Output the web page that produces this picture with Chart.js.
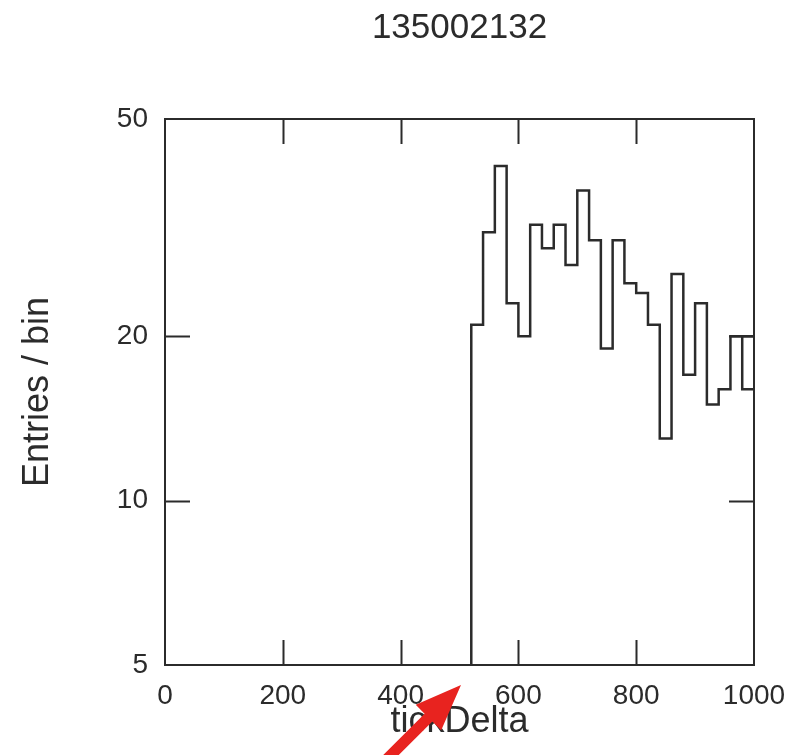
<!DOCTYPE html>
<html>
<head>
<meta charset="utf-8">
<script src="https://cdn.jsdelivr.net/npm/chart.js@4.4.1/dist/chart.umd.min.js"></script>
<style>
  html, body { margin: 0; padding: 0; background: #fff; }
  #wrap { width: 788px; height: 755px; }
</style>
</head>
<body>
<div id="wrap"><canvas id="hist"></canvas></div>
<script>
// tickDelta histogram, 20-wide bins, log y axis
const runTitle = '135002132';
const binLow = [520, 540, 560, 580, 600, 620, 640, 660, 680, 700, 720, 740,
                760, 780, 800, 820, 840, 860, 880, 900, 920, 940, 960, 980];
const binHigh = 1000;
const counts = [21, 31, 41, 23, 20, 32, 29, 32, 27, 37, 30, 19,
                30, 25, 24, 21, 13, 26, 17, 23, 15, 16, 20, 16];
// extra level drawn over the last bin
const overflowX = [980, 1000];
const overflowY = [20, 20];
const xTicks = [0, 200, 400, 600, 800, 1000];
const yTicks = [5, 10, 20, 50];

const ink = '#2b2b2b';
const fontFamily = '"Liberation Sans", Arial, Helvetica, sans-serif';

// step outline: rise from the axis floor, then one point per bin edge
// (Chart.js 'before' keeps each point's level until the next x)
const stepPoints = [{ x: binLow[0], y: yTicks[0] }]
  .concat(binLow.map((x, i) => ({ x: x, y: counts[i] })))
  .concat([{ x: binHigh, y: counts[counts.length - 1] }]);
const overflowPoints = overflowX.map((x, i) => ({ x: x, y: overflowY[i] }));

// frame with inward ticks, title and the red arrow
const framePlugin = {
  id: 'frame',
  afterDatasetsDraw(chart) {
    const { ctx, chartArea: a, scales } = chart;
    const len = 25;
    ctx.save();
    ctx.strokeStyle = ink;
    ctx.lineWidth = 2;
    ctx.strokeRect(a.left, a.top, a.right - a.left, a.bottom - a.top);
    ctx.beginPath();
    xTicks.slice(1, -1).forEach(v => {
      const px = Math.round(scales.x.getPixelForValue(v)) + 0.5;
      ctx.moveTo(px, a.bottom); ctx.lineTo(px, a.bottom - len);
      ctx.moveTo(px, a.top); ctx.lineTo(px, a.top + len);
    });
    yTicks.slice(1, -1).forEach(v => {
      const py = Math.round(scales.y.getPixelForValue(v)) + 0.5;
      ctx.moveTo(a.left, py); ctx.lineTo(a.left + len, py);
      ctx.moveTo(a.right, py); ctx.lineTo(a.right - len, py);
    });
    ctx.stroke();
    ctx.restore();
  },
  afterDraw(chart) {
    const { ctx, chartArea: a } = chart;
    ctx.save();
    ctx.fillStyle = ink;
    ctx.font = '35px ' + fontFamily;
    ctx.textAlign = 'center';
    ctx.textBaseline = 'middle';
    ctx.fillText(runTitle, (a.left + a.right) / 2, 28);

    // arrow pointing at the first filled bin
    const tail = { x: 383, y: 763 }, tip = { x: 461, y: 685 };
    const ang = Math.atan2(tip.y - tail.y, tip.x - tail.x);
    const headLen = 46, headHalf = 18, shaftHalf = 5.5;
    const bx = tip.x - headLen * Math.cos(ang), by = tip.y - headLen * Math.sin(ang);
    const nx = -Math.sin(ang), ny = Math.cos(ang);
    ctx.fillStyle = '#e8231f';
    ctx.beginPath();
    ctx.moveTo(tail.x + nx * shaftHalf, tail.y + ny * shaftHalf);
    ctx.lineTo(bx + nx * shaftHalf, by + ny * shaftHalf);
    ctx.lineTo(bx + nx * headHalf, by + ny * headHalf);
    ctx.lineTo(tip.x, tip.y);
    ctx.lineTo(bx - nx * headHalf, by - ny * headHalf);
    ctx.lineTo(bx - nx * shaftHalf, by - ny * shaftHalf);
    ctx.lineTo(tail.x - nx * shaftHalf, tail.y - ny * shaftHalf);
    ctx.closePath();
    ctx.fill();
    ctx.restore();
  }
};

const ctx = document.getElementById('hist').getContext('2d');
const histChart = new Chart(ctx, {
  type: 'line',
  data: {
    datasets: [{
      data: stepPoints,
      stepped: 'before',
      borderColor: ink,
      borderWidth: 2.5,
      pointRadius: 0,
      fill: false
    }, {
      data: overflowPoints,
      borderColor: ink,
      borderWidth: 2.5,
      pointRadius: 0,
      fill: false
    }]
  },
  options: {
    responsive: true,
    maintainAspectRatio: false,
    animation: false,
    layout: { padding: { top: 119, right: 34, left: 0, bottom: 0 } },
    plugins: {
      legend: { display: false },
      tooltip: { enabled: false }
    },
    scales: {
      x: {
        type: 'linear',
        min: 0,
        max: 1000,
        grid: { display: false },
        border: { display: false },
        afterBuildTicks: axis => { axis.ticks = xTicks.map(v => ({ value: v })); },
        afterFit: axis => {
          axis.height = 90;
          axis.paddingLeft = 0;
          axis.paddingRight = 0;
        },
        ticks: {
          color: ink,
          padding: 6,
          maxRotation: 0,
          font: { family: fontFamily, size: 28 },
          callback: v => String(v)
        },
        title: {
          display: true,
          text: 'tickDelta',
          color: ink,
          font: { family: fontFamily, size: 36 },
          padding: { top: 0, bottom: 11 }
        }
      },
      y: {
        type: 'logarithmic',
        min: 5,
        max: 50,
        grid: { display: false },
        border: { display: false },
        afterBuildTicks: axis => { axis.ticks = yTicks.map(v => ({ value: v })); },
        afterFit: axis => { axis.width = 165; },
        ticks: {
          color: ink,
          padding: 9,
          font: { family: fontFamily, size: 28 },
          callback: v => String(v)
        },
        title: {
          display: true,
          text: 'Entries / bin',
          color: ink,
          font: { family: fontFamily, size: 36 },
          padding: { top: 16, bottom: 0 }
        }
      }
    }
  },
  plugins: [framePlugin]
});
</script>
</body>
</html>
